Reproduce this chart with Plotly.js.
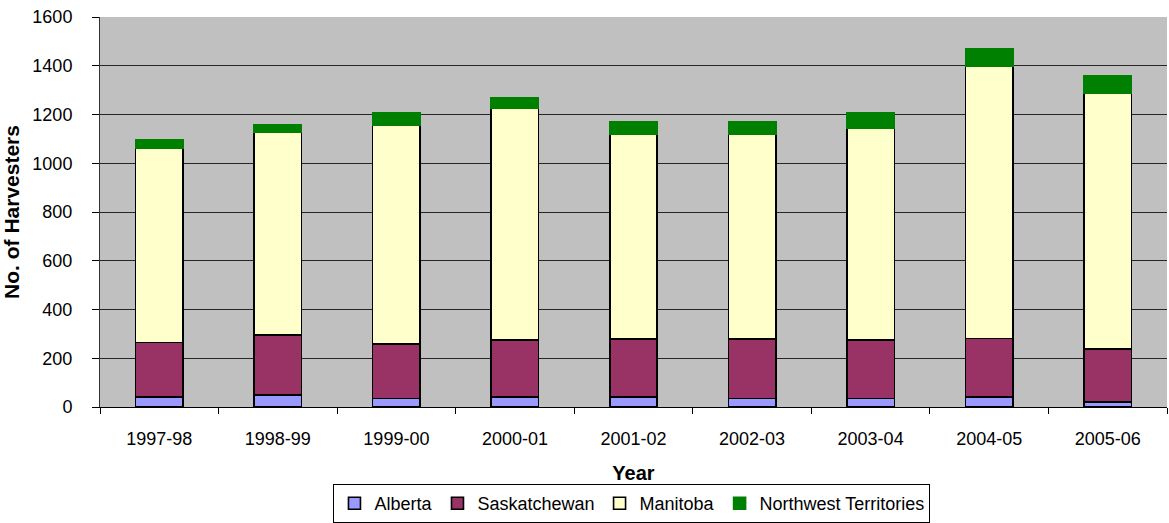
<!DOCTYPE html>
<html>
<head>
<meta charset="utf-8">
<script src="https://cdn.plot.ly/plotly-3.0.1.min.js"></script>
<style>
html,body{margin:0;padding:0;background:#fff;}
#chart{width:1169px;height:523px;}
</style>
</head>
<body>
<div id="chart"></div>
<script>
const years = ["1997-98","1998-99","1999-00","2000-01","2001-02","2002-03","2003-04","2004-05","2005-06"];
const alberta = [42, 50, 35, 42, 42, 35, 35, 42, 20];
const saskatchewan = [223, 245, 223, 232, 238, 243, 239, 239, 219];
const manitoba = [795, 833, 900, 952, 839, 841, 870, 1117, 1047];
const nwt = [37, 30, 51, 42, 53, 53, 65, 73, 74];
const yTicks = [0, 200, 400, 600, 800, 1000, 1200, 1400, 1600];

const series = [
  {name: "Alberta", y: alberta, color: "#9999FF", line: "#000000"},
  {name: "Saskatchewan", y: saskatchewan, color: "#993366", line: "#000000"},
  {name: "Manitoba", y: manitoba, color: "#FFFFCC", line: "#000000"},
  {name: "Northwest Territories", y: nwt, color: "#008000", line: "#008000"}
];

const data = series.map(s => ({
  type: "bar",
  name: s.name,
  x: years,
  y: s.y,
  marker: {color: s.color, line: {color: s.line, width: 1.6}},
  hoverinfo: "x+y+name"
}));

const font = "Liberation Sans, Arial, sans-serif";

const layout = {
  width: 1169, height: 523,
  barmode: "stack",
  bargap: 0.6,
  paper_bgcolor: "#ffffff",
  plot_bgcolor: "#C0C0C0",
  margin: {l: 100, r: 2, t: 17, b: 116, pad: 0},
  font: {family: font, size: 18, color: "#000"},
  showlegend: true,
  legend: {
    orientation: "h",
    traceorder: "normal",
    xref: "container", yref: "container",
    x: 0.5406, xanchor: "center",
    y: 1 - 484/523, yanchor: "top",
    bgcolor: "#ffffff",
    bordercolor: "#000000", borderwidth: 1,
    font: {family: font, size: 18, color: "#000"},
    itemwidth: 30
  },
  xaxis: {
    type: "category",
    tickson: "boundaries",
    ticks: "outside", ticklen: 6, tickcolor: "#000", tickwidth: 1,
    showline: true, linecolor: "#000", linewidth: 1,
    showgrid: false,
    tickfont: {family: font, size: 18, color: "#000"},
    ticklabelstandoff: 15,
    title: {text: "<b>Year</b>", font: {family: font, size: 20, color: "#000"}, standoff: 26},
    automargin: false
  },
  yaxis: {
    range: [0, 1600],
    tickvals: yTicks,
    ticktext: yTicks.map(String),
    ticks: "outside", ticklen: 7, tickcolor: "#000", tickwidth: 1,
    showline: true, linecolor: "#333", linewidth: 1,
    showgrid: true, gridcolor: "#262626", gridwidth: 1,
    zeroline: false,
    tickfont: {family: font, size: 18, color: "#000"},
    ticklabelstandoff: 16,
    title: {text: "<b>No. of Harvesters</b>", font: {family: font, size: 21, color: "#000"}, standoff: 10},
    automargin: false
  }
};

Plotly.newPlot("chart", data, layout, {displayModeBar: false, staticPlot: true});
</script>
</body>
</html>
